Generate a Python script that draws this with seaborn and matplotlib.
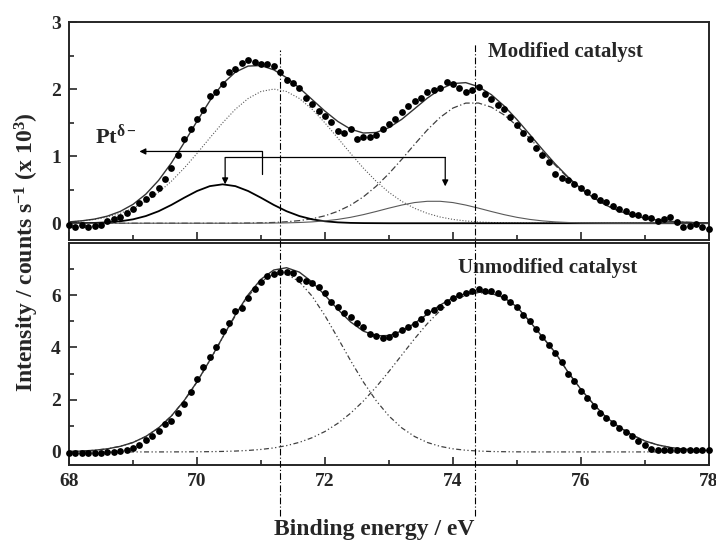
import numpy as np
import matplotlib
matplotlib.use("Agg")
import matplotlib.pyplot as plt
import matplotlib.transforms as mtransforms
from matplotlib.ticker import MultipleLocator, FixedLocator
import seaborn as sns

# Energy grids (fit curves every 0.2 eV, measured points every 0.1 eV)
energy_fit = np.round(np.arange(68.0, 78.01, 0.2), 1)
energy_pts = np.round(np.arange(68.0, 78.01, 0.1), 1)

# --- Modified catalyst: fitted components ---
mod_pt0_72 = [0.019, 0.034, 0.057, 0.093, 0.147, 0.223, 0.326, 0.460, 0.626, 0.822,
              1.041, 1.271, 1.496, 1.699, 1.860, 1.964, 2.000, 1.964, 1.860, 1.699,
              1.496, 1.271, 1.041, 0.822, 0.626, 0.460, 0.326, 0.223, 0.147, 0.093,
              0.057, 0.034, 0.019, 0.011, 0.006, 0.003, 0.001, 0, 0, 0,
              0, 0, 0, 0, 0, 0, 0, 0, 0, 0, 0]
mod_pt0_52 = [0, 0, 0, 0, 0, 0, 0, 0, 0, 0,
              0, 0, 0, 0.001, 0.003, 0.006, 0.011, 0.022, 0.039, 0.067,
              0.111, 0.177, 0.269, 0.393, 0.551, 0.740, 0.952, 1.175, 1.391, 1.578,
              1.717, 1.791, 1.792, 1.731, 1.615, 1.455, 1.266, 1.064, 0.863, 0.677,
              0.512, 0.375, 0.265, 0.181, 0.119, 0.076, 0.046, 0.028, 0.016, 0.009, 0.005]
mod_ptd_72 = [0.001, 0.002, 0.005, 0.013, 0.029, 0.058, 0.107, 0.179, 0.273, 0.380,
              0.480, 0.553, 0.580, 0.553, 0.480, 0.380, 0.273, 0.179, 0.107, 0.058,
              0.029, 0.013, 0.005, 0.002, 0.001, 0, 0, 0, 0, 0,
              0, 0, 0, 0, 0, 0, 0, 0, 0, 0,
              0, 0, 0, 0, 0, 0, 0, 0, 0, 0, 0]
mod_ptd_52 = [0, 0, 0, 0, 0, 0, 0, 0, 0, 0,
              0, 0, 0, 0, 0, 0.001, 0.003, 0.005, 0.011, 0.020,
              0.035, 0.057, 0.088, 0.128, 0.175, 0.225, 0.271, 0.308, 0.327, 0.327,
              0.308, 0.271, 0.225, 0.175, 0.128, 0.088, 0.057, 0.035, 0.020, 0.011,
              0.005, 0.003, 0.001, 0, 0, 0, 0, 0, 0, 0, 0]

mod_points = [-0.03, -0.05, -0.03, -0.06, -0.04, -0.02, 0.04, 0.06, 0.09, 0.15,
              0.21, 0.30, 0.36, 0.43, 0.52, 0.66, 0.82, 1.01, 1.25, 1.40,
              1.56, 1.69, 1.89, 1.96, 2.08, 2.26, 2.30, 2.39, 2.44, 2.40,
              2.37, 2.38, 2.34, 2.25, 2.13, 2.09, 2.02, 1.86, 1.78, 1.68,
              1.60, 1.51, 1.38, 1.35, 1.40, 1.25, 1.28, 1.29, 1.32, 1.40,
              1.48, 1.55, 1.66, 1.75, 1.82, 1.87, 1.95, 1.98, 2.02, 2.11,
              2.08, 2.02, 1.96, 1.99, 2.03, 1.92, 1.85, 1.77, 1.70, 1.58,
              1.47, 1.35, 1.25, 1.12, 1.02, 0.92, 0.74, 0.68, 0.64, 0.59,
              0.53, 0.46, 0.40, 0.35, 0.31, 0.26, 0.21, 0.18, 0.14, 0.12,
              0.10, 0.08, 0.03, 0.06, 0.09, 0.02, -0.06, -0.04, -0.01, -0.05,
              -0.09]

# --- Unmodified catalyst: fitted components ---
unmod_pt0_72 = [0.016, 0.033, 0.064, 0.119, 0.213, 0.362, 0.591, 0.922, 1.375, 1.963,
                2.679, 3.498, 4.368, 5.218, 5.961, 6.516, 6.812, 6.812, 6.516, 5.961,
                5.218, 4.368, 3.498, 2.679, 1.963, 1.375, 0.922, 0.591, 0.362, 0.213,
                0.119, 0.064, 0.033, 0.016, 0.008, 0.003, 0.001, 0, 0, 0,
                0, 0, 0, 0, 0, 0, 0, 0, 0, 0, 0]
unmod_pt0_52 = [0, 0, 0, 0, 0, 0, 0, 0, 0.001, 0.003,
                0.005, 0.010, 0.019, 0.033, 0.057, 0.095, 0.153, 0.241, 0.367, 0.545,
                0.782, 1.092, 1.480, 1.946, 2.485, 3.081, 3.707, 4.331, 4.912, 5.409,
                5.781, 6.000, 6.100, 6.050, 5.900, 5.550, 5.000, 4.400, 3.800, 3.050,
                2.400, 1.820, 1.320, 0.950, 0.650, 0.420, 0.270, 0.170, 0.110, 0.070, 0.050]

unmod_points = [-0.05, -0.04, -0.05, -0.04, -0.05, -0.04, -0.02, 0.00, 0.04, 0.09,
                0.15, 0.28, 0.45, 0.62, 0.82, 1.05, 1.20, 1.50, 1.85, 2.30,
                2.80, 3.25, 3.65, 4.02, 4.62, 4.95, 5.40, 5.50, 5.88, 6.22,
                6.50, 6.72, 6.80, 6.88, 6.90, 6.85, 6.62, 6.55, 6.45, 6.30,
                6.10, 5.75, 5.55, 5.30, 5.15, 4.95, 4.80, 4.52, 4.42, 4.38,
                4.40, 4.52, 4.65, 4.78, 4.90, 5.10, 5.35, 5.45, 5.55, 5.75,
                5.90, 6.00, 6.10, 6.18, 6.22, 6.18, 6.15, 6.10, 5.95, 5.75,
                5.55, 5.25, 5.00, 4.72, 4.40, 4.10, 3.80, 3.45, 3.00, 2.70,
                2.35, 2.05, 1.75, 1.50, 1.30, 1.12, 0.90, 0.75, 0.60, 0.42,
                0.25, 0.13, 0.08, 0.07, 0.06, 0.08, 0.07, 0.06, 0.08, 0.06,
                0.07]

# Pt0 4f7/2 and 4f5/2 reference positions (vertical guide lines)
peak_positions = [71.3, 74.35]

# Sum of the fitted components = envelope
mod_envelope = (np.array(mod_pt0_72) + np.array(mod_pt0_52)
                + np.array(mod_ptd_72) + np.array(mod_ptd_52))
unmod_envelope = np.array(unmod_pt0_72) + np.array(unmod_pt0_52)

sns.set_theme(style="ticks")
plt.rcParams["font.family"] = ["Liberation Serif", "DejaVu Serif"]
plt.rcParams["font.weight"] = "bold"
plt.rcParams["mathtext.fontset"] = "custom"
plt.rcParams["mathtext.rm"] = "Liberation Serif"
plt.rcParams["mathtext.bf"] = "Liberation Serif:bold"
plt.rcParams["mathtext.it"] = "Liberation Serif:italic"

fig = plt.figure(figsize=(7.16, 5.42), dpi=100)
ax1 = fig.add_axes([0.0964, 0.5572, 0.8936, 0.4022])
ax2 = fig.add_axes([0.0964, 0.1421, 0.8936, 0.4096])

dotted = (0, (1, 1.6))
dashdot = (0, (5, 2, 1, 2))
dashdotdot = (0, (4, 2, 1, 2, 1, 2))

# --- Top panel: modified catalyst ---
sns.lineplot(x=energy_fit, y=mod_pt0_72, ax=ax1, color="0.35", lw=0.8, linestyle=dotted)
sns.lineplot(x=energy_fit, y=mod_pt0_52, ax=ax1, color="0.25", lw=0.9, linestyle=dashdot)
sns.lineplot(x=energy_fit, y=mod_ptd_72, ax=ax1, color="black", lw=1.3)
sns.lineplot(x=energy_fit, y=mod_ptd_52, ax=ax1, color="0.35", lw=0.8)
sns.lineplot(x=energy_fit, y=mod_envelope, ax=ax1, color="0.2", lw=1.0)
sns.scatterplot(x=energy_pts, y=mod_points, ax=ax1, color="black", s=24,
                linewidth=0, zorder=3, clip_on=False)

# --- Bottom panel: unmodified catalyst ---
sns.lineplot(x=energy_fit, y=unmod_pt0_72, ax=ax2, color="0.25", lw=0.9, linestyle=dashdotdot)
sns.lineplot(x=energy_fit, y=unmod_pt0_52, ax=ax2, color="0.25", lw=0.9, linestyle=dashdotdot)
sns.lineplot(x=energy_fit, y=unmod_envelope, ax=ax2, color="0.2", lw=1.0)
sns.scatterplot(x=energy_pts, y=unmod_points, ax=ax2, color="black", s=24,
                linewidth=0, zorder=3, clip_on=False)

for ax in (ax1, ax2):
    ax.set_xlim(68, 78)
    ax.xaxis.set_major_locator(MultipleLocator(2))
    ax.xaxis.set_minor_locator(MultipleLocator(1))
    ax.tick_params(which="both", direction="in", top=False, right=False,
                   width=1.2, labelsize=14, pad=6)
    ax.tick_params(which="major", length=6)
    ax.tick_params(which="minor", length=3.5)
    for sp in ax.spines.values():
        sp.set_linewidth(1.4)
        sp.set_visible(True)
    ax.set_xlabel("")
    ax.set_ylabel("")

ax1.set_ylim(-0.25, 3)
ax1.yaxis.set_major_locator(MultipleLocator(1))
ax1.yaxis.set_minor_locator(MultipleLocator(0.5))
ax1.tick_params(axis="x", labelbottom=False)

ax2.set_ylim(-0.5, 8)
ax2.yaxis.set_major_locator(FixedLocator([0, 2, 4, 6]))
ax2.yaxis.set_minor_locator(FixedLocator([1, 3, 5, 7]))

for a in (ax1, ax2):
    for lbl in a.get_xticklabels() + a.get_yticklabels():
        lbl.set_fontweight("bold")

# Vertical guide lines crossing both panels
trans = mtransforms.blended_transform_factory(ax2.transData, fig.transFigure)
line_tops = [0.908, 0.92]
for pos, top in zip(peak_positions, line_tops):
    ax2.plot([pos, pos], [0.048, top], transform=trans, clip_on=False,
             color="black", lw=0.8, linestyle=(0, (6, 2, 1, 2)), zorder=5)

# Panel labels
ax1.text(74.55, 2.56, "Modified catalyst", fontsize=15, fontweight="bold", va="center")
ax2.text(74.08, 7.04, "Unmodified catalyst", fontsize=15, fontweight="bold", va="center")
ax1.text(68.4, 1.29, r"Pt$^{\mathrm{\delta -}}$", fontsize=16, fontweight="bold", va="center")

# Arrows pointing at the Pt(delta-) components
arrow = dict(arrowstyle="-|>", color="black", lw=0.9, mutation_scale=9, shrinkA=0, shrinkB=0)
ax1.plot([71.02, 71.02], [0.73, 1.07], color="black", lw=0.9)
ax1.annotate("", xy=(69.1, 1.07), xytext=(71.02, 1.07), arrowprops=arrow)
ax1.plot([70.44, 73.88], [0.98, 0.98], color="black", lw=0.9)
ax1.annotate("", xy=(70.44, 0.58), xytext=(70.44, 0.98), arrowprops=arrow)
ax1.annotate("", xy=(73.88, 0.55), xytext=(73.88, 0.98), arrowprops=arrow)

# Axis titles
fig.text(0.037, 0.535, r"Intensity / counts s$^{\mathbf{-1}}$ (x 10$^{\mathbf{3}}$)",
         rotation=90, ha="center", va="center", fontsize=17, fontweight="bold")
fig.text(0.523, 0.004, "Binding energy / eV", ha="center", va="bottom",
         fontsize=17, fontweight="bold")

fig.savefig("out.png", dpi=100)
